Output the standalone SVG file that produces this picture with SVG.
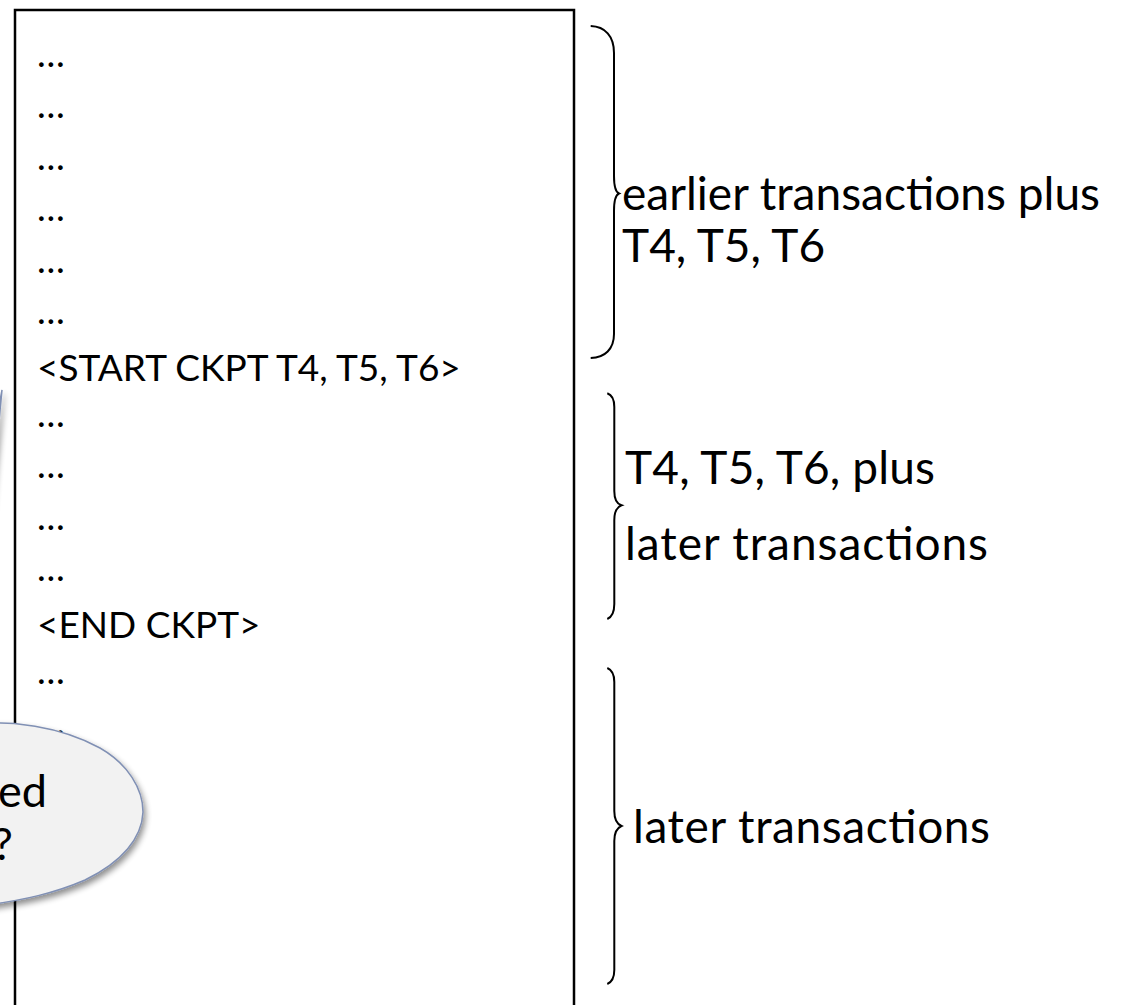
<svg xmlns="http://www.w3.org/2000/svg" width="1121" height="1005" viewBox="0 0 1121 1005">
<style>
.log{font-family:Lato,"Liberation Sans",sans-serif;font-size:37px;fill:#000}
.lbl{font-family:Lato,"Liberation Sans",sans-serif;font-size:46px;fill:#000}
.brace{fill:none;stroke:#000;stroke-width:2}
.call{font-family:Lato,"Liberation Sans",sans-serif;font-size:45px;fill:#000}
</style>
<defs>
<filter id="sh" x="-30%" y="-30%" width="160%" height="160%">
<feGaussianBlur in="SourceAlpha" stdDeviation="3"/>
<feOffset dx="2" dy="4" result="b"/>
<feComponentTransfer><feFuncA type="linear" slope="0.45"/></feComponentTransfer>
<feMerge><feMergeNode/><feMergeNode in="SourceGraphic"/></feMerge>
</filter>
</defs>
<g id="log">
<rect x="15" y="10" width="559" height="1010" fill="#fff" stroke="#000" stroke-width="2.5"/>
<text class="log" x="37" y="67">…</text>
<text class="log" x="37" y="118.4">…</text>
<text class="log" x="37" y="169.8">…</text>
<text class="log" x="37" y="221.2">…</text>
<text class="log" x="37" y="272.6">…</text>
<text class="log" x="37" y="324">…</text>
<text class="log" x="37" y="381">&lt;START CKPT T4, T5, T6&gt;</text>
<text class="log" x="37" y="426.8">…</text>
<text class="log" x="37" y="478.2">…</text>
<text class="log" x="37" y="529.6">…</text>
<text class="log" x="37" y="581">…</text>
<text class="log" x="37" y="638">&lt;END CKPT&gt;</text>
<text class="log" x="37" y="683.8">…</text>
<text class="log" x="37" y="735.2">…</text>
</g>
<g id="connectors">
<path class="brace" d="M 590.7 26 C 605 26.5, 614 36, 614 53 L 614 176 C 614 186, 615.5 192, 619 193.5 C 615.5 195, 614 201, 614 211 L 614 334 C 614 349, 605 357.5, 590.7 358"/>
<path class="brace" d="M 607.3 393.3 C 612 395, 614.3 400, 614.3 407 L 614.3 491 C 614.3 499, 617 504, 621.5 505.3 C 617 507, 614.3 512, 614.3 520 L 614.3 604 C 614.3 611, 612 617, 607.3 619"/>
<path class="brace" d="M 607.3 668 C 612 670, 614.3 675, 614.3 682 L 614.3 811 C 614.3 819, 617 824, 621.5 826 C 617 828, 614.3 833, 614.3 841 L 614.3 970 C 614.3 977, 612 982, 607.3 984"/>
</g>
<g id="label-earlier">
<text class="lbl" x="622" y="209.5" textLength="478">earlier transactions plus</text>
<text class="lbl" x="622" y="261.5">T4, T5, T6</text>
</g>
<g id="label-middle">
<text class="lbl" x="625" y="484" textLength="310">T4, T5, T6, plus</text>
<text class="lbl" x="625" y="560" textLength="363">later transactions</text>
</g>
<g id="label-later">
<text class="lbl" x="633" y="843" textLength="357">later transactions</text>
</g>
<g id="callout">
<path d="M -60 726 L 2 390 L -30 724 C 10 720, 60 726, 100 748 C 128 764, 143 789, 143 812 C 142 838, 122 862, 85 880 C 55 893, 25 900, -20 906 L -80 906 Z" fill="#f2f2f2" stroke="#8090b4" stroke-width="1.5" filter="url(#sh)"/>
<text class="call" x="47" y="807" text-anchor="end">ed</text>
<text class="call" x="13" y="860" text-anchor="end">?</text>
</g>
</svg>
